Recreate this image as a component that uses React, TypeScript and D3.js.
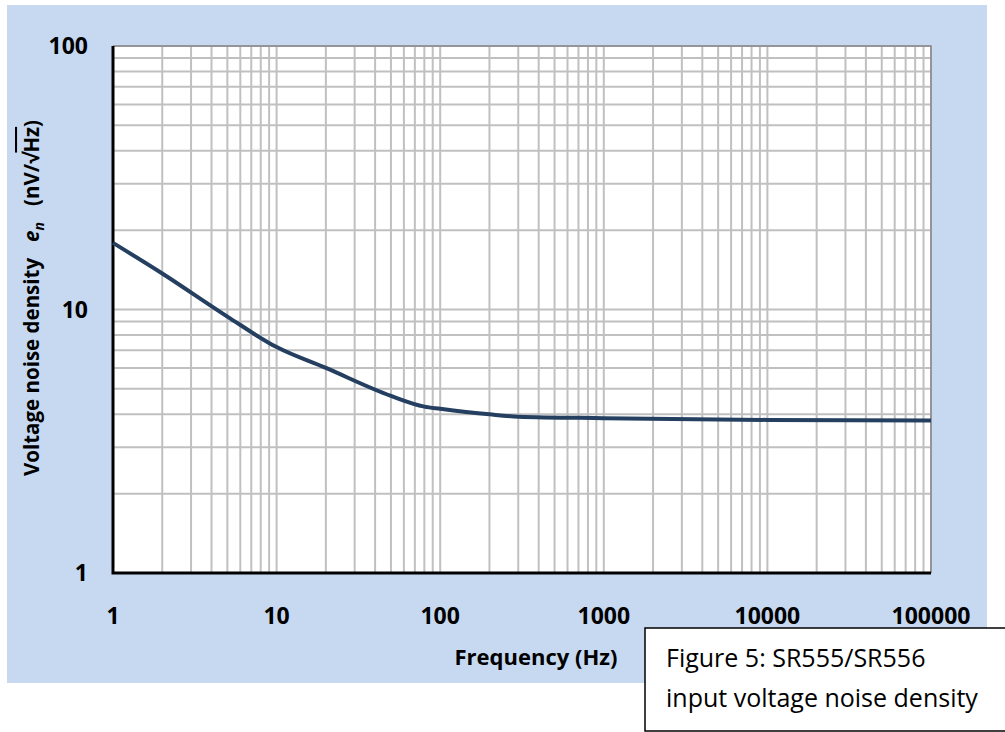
import { useRef, useEffect } from "react";
import * as d3 from "d3";

// Noise curve (Hz, nV/rtHz)
const freqs = [1, 2, 5, 10, 20, 50, 80, 100, 200, 300, 1000, 10000, 100000];
const noise = [17.9, 13.7, 9.4, 7.2, 6.0, 4.7, 4.28, 4.2, 4.0, 3.92, 3.87, 3.81, 3.79];

const xTicks = [1, 10, 100, 1000, 10000, 100000];
const yTicks = [1, 10, 100];

const W = 1005;
const H = 732;
const FONT = "'Open Sans', Lato, sans-serif";

const App = () => {
  const svgRef = useRef(null);

  useEffect(() => {
    const svg = d3.select(svgRef.current);
    svg.selectAll("*").remove();

    const left = 113;
    const right = 931;
    const top = 46;
    const bottom = 573;

    // background panel
    svg
      .append("rect")
      .attr("x", 7)
      .attr("y", 5)
      .attr("width", 980)
      .attr("height", 678)
      .attr("fill", "#c6d9f1");

    const xScale = d3.scaleLog().domain([1, 100000]).range([left, right]);
    const yScale = d3.scaleLog().domain([1, 100]).range([bottom, top]);

    svg
      .append("rect")
      .attr("x", left)
      .attr("y", top)
      .attr("width", right - left)
      .attr("height", bottom - top)
      .attr("fill", "#fff");

    // grid (every 1..9 per decade)
    const grid = svg.append("g").attr("stroke", "#c0c0c0").attr("stroke-width", 2);
    const xGrid = [];
    for (let d = 1; d < 100000; d *= 10) for (let k = 1; k < 10; k++) xGrid.push(d * k);
    xGrid.push(100000);
    const yGrid = [];
    for (let d = 1; d < 100; d *= 10) for (let k = 1; k < 10; k++) yGrid.push(d * k);
    yGrid.push(100);

    grid
      .selectAll("line.h")
      .data(yGrid)
      .join("line")
      .attr("x1", left)
      .attr("x2", right)
      .attr("y1", (v) => yScale(v))
      .attr("y2", (v) => yScale(v));
    grid
      .selectAll("line.v")
      .data(xGrid)
      .join("line")
      .attr("class", "v")
      .attr("y1", top)
      .attr("y2", bottom)
      .attr("x1", (v) => xScale(v))
      .attr("x2", (v) => xScale(v));

    // frame: grey top/right, black left/bottom
    svg
      .append("path")
      .attr("d", `M${left},${top}H${right}V${bottom}`)
      .attr("fill", "none")
      .attr("stroke", "#868686")
      .attr("stroke-width", 1.5);
    svg
      .append("path")
      .attr("d", `M${left},${top}V${bottom}H${right}`)
      .attr("fill", "none")
      .attr("stroke", "#000")
      .attr("stroke-width", 3);

    // curve
    const line = d3
      .line()
      .x((d) => xScale(d[0]))
      .y((d) => yScale(d[1]))
      .curve(d3.curveMonotoneX);
    svg
      .append("path")
      .datum(freqs.map((f, i) => [f, noise[i]]))
      .attr("d", line)
      .attr("fill", "none")
      .attr("stroke", "#243f60")
      .attr("stroke-width", 4)
      .attr("stroke-linejoin", "round");

    // tick labels
    svg
      .selectAll("text.xt")
      .data(xTicks)
      .join("text")
      .attr("x", (v) => xScale(v))
      .attr("y", 624)
      .attr("text-anchor", "middle")
      .attr("font-family", FONT)
      .attr("font-weight", "bold")
      .attr("font-size", 23)
      .text((v) => String(v));
    svg
      .selectAll("text.yt")
      .data(yTicks)
      .join("text")
      .attr("x", 88)
      .attr("y", (v) => yScale(v) + 8)
      .attr("text-anchor", "end")
      .attr("font-family", FONT)
      .attr("font-weight", "bold")
      .attr("font-size", 23)
      .text((v) => String(v));

    // axis titles
    svg
      .append("text")
      .attr("x", 536)
      .attr("y", 665)
      .attr("text-anchor", "middle")
      .attr("font-family", FONT)
      .attr("font-weight", "bold")
      .attr("font-size", 22)
      .text("Frequency (Hz)");

    const yt = svg
      .append("text")
      .attr("transform", `translate(39, 298) rotate(-90)`)
      .attr("text-anchor", "middle")
      .attr("font-family", FONT)
      .attr("font-weight", "bold")
      .attr("font-size", 20.5)
      .attr("xml:space", "preserve");
    yt.append("tspan").text("Voltage noise density   ");
    yt.append("tspan").attr("font-style", "italic").text("e");
    yt.append("tspan")
      .attr("font-style", "italic")
      .attr("font-size", 14)
      .attr("dy", 5)
      .text("n");
    yt.append("tspan").attr("dy", -5).text("   (nV/√");
    yt.append("tspan").attr("text-decoration", "overline").text("Hz");
    yt.append("tspan").text(")");

    // caption box
    svg
      .append("rect")
      .attr("x", 645)
      .attr("y", 628)
      .attr("width", 370)
      .attr("height", 103)
      .attr("fill", "#fff")
      .attr("stroke", "#000")
      .attr("stroke-width", 1.5);
    svg
      .append("text")
      .attr("x", 666)
      .attr("y", 667)
      .attr("font-family", FONT)
      .attr("font-size", 25)
      .text("Figure 5: SR555/SR556");
    svg
      .append("text")
      .attr("x", 666)
      .attr("y", 707)
      .attr("font-family", FONT)
      .attr("font-size", 25)
      .text("input voltage noise density");
  }, []);

  return (
    <svg
      ref={svgRef}
      width={W}
      height={H}
      style={{ position: "absolute", left: 0, top: 0, display: "block", background: "#fff" }}
    ></svg>
  );
};

export default App;
